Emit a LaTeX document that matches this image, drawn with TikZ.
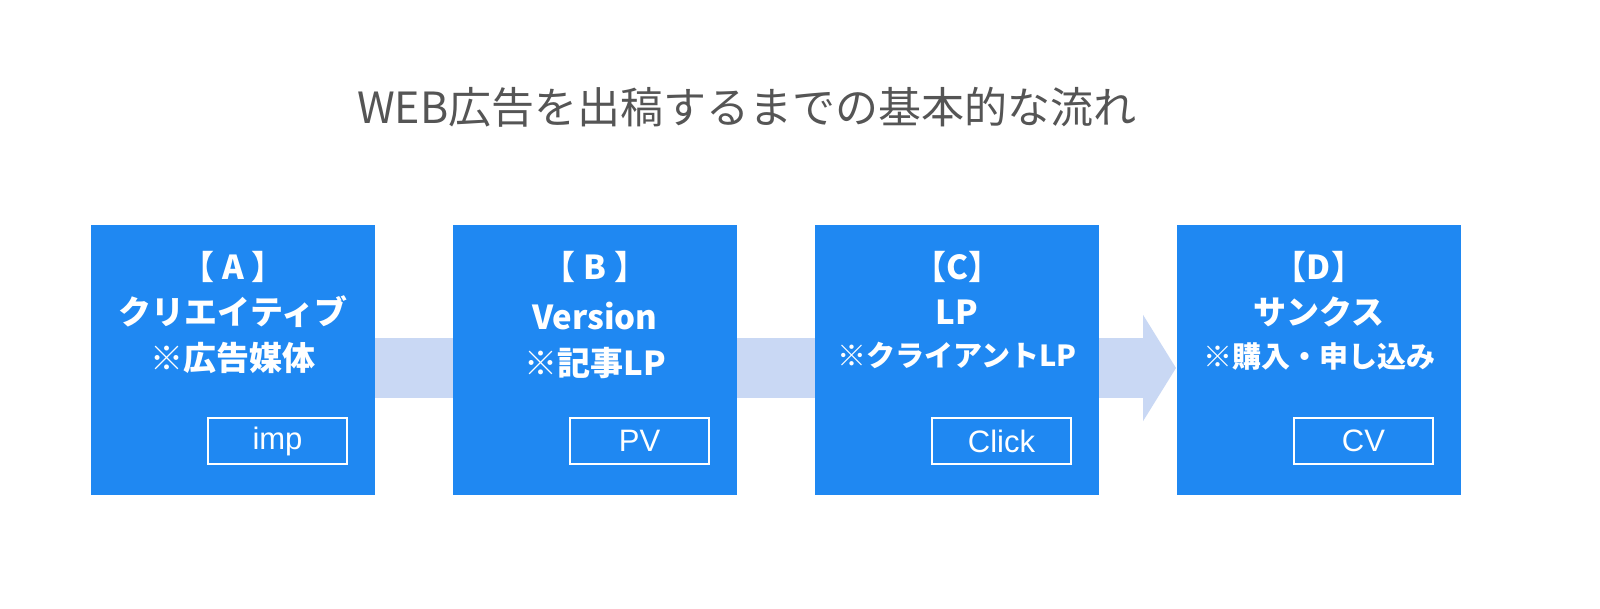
\documentclass[tikz,border=0pt]{standalone}
\usepackage{fontspec}
\setmainfont{Liberation Sans}
\newfontfamily\cjk{Noto Sans CJK JP}
\usetikzlibrary{arrows.meta}
\definecolor{boxblue}{HTML}{1F88F2}
\definecolor{arrowblue}{HTML}{C9D8F4}
\definecolor{titlegray}{HTML}{555555}
\begin{document}
\begin{tikzpicture}[x=1pt,y=-1pt,
 stage/.style={fill=boxblue, draw=none, minimum width=284pt, minimum height=270pt, inner sep=0pt},
 head/.style={text=white, font=\cjk\bfseries\fontsize{33}{36}\selectfont, inner sep=0pt},
 sub/.style={text=white, font=\cjk\bfseries\fontsize{29}{36}\selectfont, inner sep=0pt},
 metric/.style={draw=white, line width=2pt, minimum width=139pt, minimum height=46pt, inner sep=0pt, text=white, font=\fontsize{31}{36}\selectfont}]
\useasboundingbox (0,0) rectangle (1600,609);
\fill[white] (0,0) rectangle (1600,609);

\node[anchor=west, text=titlegray, font=\cjk\fontsize{43}{50}\selectfont, inner sep=0pt] (title) at (357,107) {WEB広告を出稿するまでの基本的な流れ};

\coordinate (bandL) at (233,368);
\coordinate (bandR) at (1176,368);
\draw[arrowblue, line width=60pt, -{Triangle[length=33pt,width=105pt]}] (bandL) -- (bandR);

\node[stage] (A) at (233,360) {};
\node[stage] (B) at (595,360) {};
\node[stage] (C) at (957,360) {};
\node[stage] (D) at (1319,360) {};

\node[head] (A1) at (233,267) {【 A 】};
\node[head] (A2) at (233,312) {クリエイティブ};
\node[head] (A3) at (233,358) {※広告媒体};

\node[head] (B1) at (595,267) {【 B 】};
\node[head] (B2) at (595,316) {Version};
\node[head] (B3) at (595,363) {※記事LP};

\node[head] (C1) at (957,267) {【C】};
\node[head] (C2) at (957,312) {LP};
\node[sub] (C3) at (957,355) {※クライアントLP};

\node[head] (D1) at (1319,267) {【D】};
\node[head] (D2) at (1319,312) {サンクス};
\node[sub] (D3) at (1319,357) {※購入・申し込み};

\node[metric] (Am) at (277.5,441) {imp};
\node[metric] (Bm) at (639.5,441) {PV};
\node[metric] (Cm) at (1001.5,441) {Click};
\node[metric] (Dm) at (1363.5,441) {CV};
\end{tikzpicture}
\end{document}
